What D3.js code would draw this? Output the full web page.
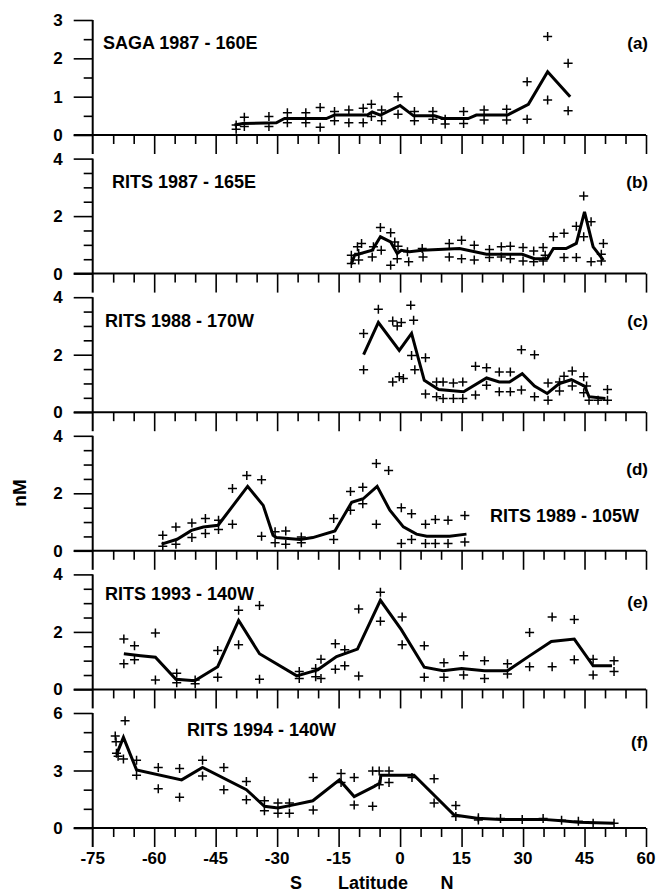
<!DOCTYPE html>
<html>
<head>
<meta charset="utf-8">
<script src="https://cdn.jsdelivr.net/npm/d3@7.9.0/dist/d3.min.js"></script>
<style>
  body { margin: 0; background: #fff; }
  svg text { font-family: "Liberation Sans", Arial, sans-serif; font-weight: bold; fill: #000; }
</style>
</head>
<body>
<svg id="chart" width="658" height="894"></svg>
<script>
// panel info
const panelTitles = ['SAGA 1987 - 160E', 'RITS 1987 - 165E', 'RITS 1988 - 170W', 'RITS 1989 - 105W', 'RITS 1993 - 140W', 'RITS 1994 - 140W'];
const panelLetters = ['(a)', '(b)', '(c)', '(d)', '(e)', '(f)'];
const yMax = [3, 4, 4, 4, 4, 6];
const yLabelStep = [1, 2, 2, 2, 2, 3];
const yTickStep = [0.5, 0.5, 0.5, 0.5, 0.5, 1];
const xTicks = [-75, -60, -45, -30, -15, 0, 15, 30, 45, 60];

// (a) SAGA 1987
const aCrossLat = [-40, -40, -38, -38, -32, -32, -27.5, -27.5, -23, -23, -19.5, -19.5, -16, -16, -12.5, -12.5, -9, -9, -7, -7, -4.5, -4.5, -0.5, -0.5, 3.5, 3.5, 8, 8, 11, 11, 15.5, 15.5, 20.5, 20.5, 26, 26, 31, 31, 36, 36, 41, 41];
const aCrossVal = [0.26, 0.15, 0.46, 0.22, 0.48, 0.22, 0.58, 0.32, 0.58, 0.32, 0.72, 0.2, 0.61, 0.37, 0.65, 0.32, 0.7, 0.32, 0.8, 0.48, 0.65, 0.37, 1.0, 0.54, 0.61, 0.37, 0.61, 0.41, 0.41, 0.29, 0.61, 0.3, 0.65, 0.39, 0.67, 0.39, 1.39, 0.41, 2.57, 0.91, 1.87, 0.63];
const aLineLat = [-40.4, -38.4, -30.2, -28.2, -18, -16, -8, -6.8, -4.8, 0, 3.3, 8.4, 10.5, 16.6, 18.6, 26.2, 31.3, 36, 41.5];
const aLineVal = [0.26, 0.3, 0.32, 0.43, 0.43, 0.52, 0.52, 0.6, 0.52, 0.77, 0.5, 0.5, 0.43, 0.43, 0.52, 0.52, 0.8, 1.65, 1.0];

// (b) RITS 1987
const bCrossLat = [-11.9, -11.9, -10.4, -10.1, -10.1, -9.4, -6.5, -6.8, -4.8, -4.6, -2.3, -2.3, -1.3, -0.5, -0.7, 1.8, 2.1, 5.4, 5.6, 12, 12, 15, 15, 18.1, 18.1, 21.8, 21.8, 24.7, 24.7, 26.9, 26.9, 30, 30, 32.6, 32.6, 34.9, 34.9, 35.4, 37.4, 40, 40, 43, 43, 44.8, 44.8, 46.6, 46.6, 49.1, 49.1, 49.6];
const bCrossVal = [0.64, 0.35, 0.93, 0.7, 0.47, 1.05, 0.93, 0.58, 1.6, 0.81, 1.42, 0.29, 1.1, 0.95, 0.52, 0.76, 0.41, 0.87, 0.58, 1.05, 0.58, 1.16, 0.52, 0.99, 0.47, 0.84, 0.56, 0.93, 0.58, 0.95, 0.52, 0.91, 0.44, 0.79, 0.41, 0.91, 0.44, 0.64, 1.28, 1.4, 0.56, 1.65, 0.56, 2.7, 1.28, 1.8, 0.41, 0.67, 0.44, 1.05];
const bLineLat = [-11.9, -11.1, -6.8, -4.8, -2.3, -0.7, 0.3, 2.3, 5.4, 14.5, 21.1, 29.8, 32.8, 35.9, 37.4, 40.5, 43, 45, 47.1, 49.6];
const bLineVal = [0.33, 0.64, 0.81, 1.28, 1.1, 0.7, 0.81, 0.76, 0.81, 0.87, 0.67, 0.67, 0.52, 0.52, 0.87, 0.87, 1.05, 2.15, 0.93, 0.47];

// (c) RITS 1988
const cCrossLat = [-8.9, -8.9, -5.3, -1.8, -1.8, -0.7, -0.2, 0.3, 0.8, 2.6, 3.3, 2.8, 3.6, 6.2, 6.2, 8.9, 8.9, 10.5, 10.5, 13, 13, 15.3, 15.3, 18.4, 18.4, 21.1, 21.1, 24.2, 24.2, 26.9, 26.9, 29.6, 29.6, 32.8, 32.8, 36.1, 36.1, 38.9, 38.9, 40, 42, 42, 44.8, 44.8, 45.5, 46.1, 48.3, 50.6, 50.6];
const cCrossVal = [2.74, 1.48, 3.58, 3.17, 1.05, 3.0, 1.23, 3.12, 1.17, 3.72, 3.2, 1.97, 1.48, 1.89, 0.63, 1.05, 0.54, 1.05, 0.48, 1.02, 0.48, 1.05, 0.48, 1.6, 0.6, 1.55, 0.94, 1.4, 0.71, 1.4, 0.71, 2.17, 0.77, 2.0, 0.54, 1.02, 0.42, 1.05, 0.74, 1.25, 1.43, 0.91, 1.23, 0.68, 0.91, 0.42, 0.42, 0.42, 0.79];
const cLineLat = [-8.9, -5.3, -0.2, 2.8, 5.9, 9.4, 15.5, 21.1, 24.2, 26.7, 29.8, 32.8, 35.9, 38.9, 41.8, 45, 46.1, 50.1];
const cLineVal = [2.0, 3.12, 2.15, 2.74, 1.11, 0.79, 0.71, 1.19, 1.05, 1.05, 1.34, 0.91, 0.65, 1.0, 1.13, 0.91, 0.54, 0.48];

// (d) RITS 1989
const dCrossLat = [-57.9, -57.9, -54.7, -54.7, -50.8, -50.8, -47.5, -47.5, -44.3, -44.3, -40.9, -40.9, -37.4, -33.8, -33.8, -30.5, -30.5, -27.9, -27.9, -24.1, -24.1, -16.2, -16.2, -12.1, -12.1, -9.1, -9.1, -5.8, -5.8, -2.8, 0.3, 0.3, 2.8, 2.8, 6.2, 6.2, 8.6, 8.6, 11.7, 11.7, 15.8, 15.8];
const dCrossVal = [0.54, 0.16, 0.83, 0.23, 0.97, 0.46, 1.12, 0.6, 1.06, 0.74, 2.17, 0.92, 2.62, 2.47, 0.51, 0.66, 0.28, 0.69, 0.23, 0.48, 0.28, 1.12, 0.39, 2.06, 1.41, 2.21, 1.64, 3.04, 0.92, 2.79, 1.5, 0.25, 1.29, 0.39, 0.92, 0.25, 1.09, 0.25, 1.06, 0.25, 1.23, 0.31];
const dLineLat = [-58.2, -54.4, -50.9, -48, -44.4, -37.2, -33.4, -31, -30.2, -24.4, -21.3, -15.9, -11.8, -9, -5.6, -2.5, 0.8, 4, 6.5, 12.1, 16.2];
const dLineVal = [0.23, 0.4, 0.71, 0.83, 0.89, 2.24, 1.58, 0.54, 0.46, 0.39, 0.46, 0.69, 1.69, 1.81, 2.24, 1.41, 0.83, 0.58, 0.51, 0.51, 0.58];

// (e) RITS 1993
const eCrossLat = [-67.4, -67.4, -64.8, -64.8, -59.7, -59.7, -54.5, -54.5, -50, -50, -44.5, -44.5, -39.4, -39.4, -34.3, -34.3, -24.6, -24.6, -20.6, -20.6, -19.3, -19.3, -15.8, -15.8, -13.5, -13.5, -10.1, -10.1, -4.8, -4.8, 0.5, 0.5, 5.9, 5.9, 10.7, 10.7, 15.5, 15.5, 20.6, 20.6, 26.2, 26.2, 31.6, 31.6, 37.1, 37.1, 42.5, 42.5, 47.1, 47.1, 52.2, 52.2];
const eCrossVal = [1.75, 0.89, 1.52, 1.03, 1.96, 0.33, 0.56, 0.23, 0.33, 0.2, 1.35, 0.42, 2.75, 1.55, 2.92, 0.35, 0.62, 0.38, 0.73, 0.44, 1.05, 0.38, 1.59, 0.7, 1.38, 0.82, 2.8, 0.47, 3.38, 2.37, 2.52, 1.55, 1.52, 0.42, 0.93, 0.42, 1.17, 0.5, 1.0, 0.38, 0.89, 0.54, 1.98, 0.79, 2.52, 0.79, 2.43, 1.03, 1.05, 0.5, 1.0, 0.62];
const eLineLat = [-67.4, -63.3, -59.7, -54.7, -50.1, -44.5, -39.4, -34.3, -25.2, -20.1, -15.5, -10.4, -4.8, 0.3, 5.9, 10.5, 15, 20.6, 26.2, 31.3, 36.9, 42.5, 47.1, 51.7];
const eLineVal = [1.24, 1.17, 1.12, 0.35, 0.3, 0.79, 2.4, 1.24, 0.47, 0.68, 1.14, 1.4, 3.1, 2.08, 0.77, 0.65, 0.73, 0.65, 0.65, 1.14, 1.67, 1.75, 0.82, 0.82];

// (f) RITS 1994
const fCrossLat = [-69.5, -69.3, -69.2, -68.8, -67.1, -67.5, -64.3, -64.3, -59, -59, -53.8, -53.8, -48.2, -48.2, -43, -43, -37.5, -37.5, -33.1, -33.1, -29.8, -29.8, -27, -27, -21.2, -21.2, -14.4, -14.4, -11.2, -11.2, -6.7, -6.7, -5.1, -5.1, -2.7, -2.7, 2.9, 8.3, 8.3, 13.6, 13.6, 19.1, 19.1, 24.5, 29.8, 34.9, 39.4, 43.5, 47.1, 52.2];
const fCrossVal = [4.8, 4.5, 3.9, 3.75, 5.6, 3.6, 3.53, 2.75, 3.16, 2.05, 3.1, 1.6, 3.53, 2.71, 3.16, 2.0, 2.43, 1.48, 1.42, 0.9, 1.3, 0.77, 1.3, 0.77, 2.64, 0.94, 2.85, 2.38, 2.64, 1.2, 2.97, 1.13, 2.97, 2.26, 2.97, 2.38, 2.64, 2.57, 1.3, 1.18, 0.6, 0.53, 0.42, 0.5, 0.45, 0.5, 0.4, 0.35, 0.25, 0.25];
const fLineLat = [-69.2, -67.5, -64.3, -53.3, -48.2, -37.5, -33.1, -29.8, -26.6, -21.3, -14.8, -11.2, -6.3, -4.9, -4.7, 3.4, 13.2, 18.8, 24.5, 34.9, 39.4, 43.5, 52.2];
const fLineVal = [3.83, 4.73, 3.03, 2.51, 3.16, 2.0, 1.13, 1.04, 1.18, 1.42, 2.51, 1.64, 2.17, 2.35, 2.75, 2.75, 0.68, 0.51, 0.45, 0.45, 0.38, 0.3, 0.25];

const crossLats = [aCrossLat, bCrossLat, cCrossLat, dCrossLat, eCrossLat, fCrossLat];
const crossVals = [aCrossVal, bCrossVal, cCrossVal, dCrossVal, eCrossVal, fCrossVal];
const lineLats = [aLineLat, bLineLat, cLineLat, dLineLat, eLineLat, fLineLat];
const lineVals = [aLineVal, bLineVal, cLineVal, dLineVal, eLineVal, fLineVal];

// layout
const titleX = [103, 112, 105, 490, 105, 187];
const titleDy = [29, 29, 30, 86, 26, 23];
const letterDy = [29, 29, 30, 39, 34, 35];
const panelTop0 = 20, panelPitch = 138.6, panelH = 115;
const bigTick = 19, smallTick = 9;

const svg = d3.select('#chart');
const x = d3.scaleLinear().domain([-75, 60]).range([92.7, 646]);

panelTitles.forEach((title, i) => {
  const top = panelTop0 + i * panelPitch;
  const y = d3.scaleLinear().domain([0, yMax[i]]).range([top + panelH, top]);
  const g = svg.append('g');
  const zeroY = y(0);

  // x axis (ticks hang below the zero line)
  const xAxis = d3.axisBottom(x)
    .tickValues(d3.range(-70, 61, 5))
    .tickSize(0)
    .tickFormat('');
  const xa = g.append('g').attr('transform', `translate(0,${zeroY})`).call(xAxis);
  xa.select('.domain').remove();
  xa.selectAll('.tick line')
    .attr('y2', d => (d % 15 === 0 ? bigTick : smallTick))
    .attr('stroke', '#000').attr('stroke-width', 1.6);
  g.append('line')
    .attr('x1', x(-75) - bigTick).attr('x2', x(60))
    .attr('y1', zeroY).attr('y2', zeroY)
    .attr('stroke', '#000').attr('stroke-width', 2);

  // y axis
  const yAxis = d3.axisLeft(y)
    .tickValues(d3.range(0, yMax[i] + 0.001, yTickStep[i]))
    .tickSize(0)
    .tickFormat('');
  const ya = g.append('g').attr('transform', `translate(${x(-75)},0)`).call(yAxis);
  ya.select('.domain').remove();
  ya.selectAll('.tick line')
    .attr('x2', d => (Math.abs(d / yLabelStep[i] - Math.round(d / yLabelStep[i])) < 1e-6 ? -bigTick : -smallTick))
    .attr('stroke', '#000').attr('stroke-width', 1.6);
  g.append('line')
    .attr('x1', x(-75)).attr('x2', x(-75))
    .attr('y1', top).attr('y2', zeroY + bigTick)
    .attr('stroke', '#000').attr('stroke-width', 2);
  g.selectAll('.ylab')
    .data(d3.range(0, yMax[i] + 0.001, yLabelStep[i]))
    .join('text')
    .attr('x', x(-75) - 30)
    .attr('y', d => y(d) + 6)
    .attr('text-anchor', 'end')
    .attr('font-size', 17)
    .text(d => d);

  // crosses
  const pts = crossLats[i].map((lat, k) => [lat, crossVals[i][k]]);
  g.selectAll('.cross')
    .data(pts)
    .join('path')
    .attr('d', d => `M${x(d[0]) - 4.5},${y(d[1])}h9M${x(d[0])},${y(d[1]) - 4.5}v9`)
    .attr('stroke', '#000').attr('stroke-width', 1.5).attr('fill', 'none');

  // running mean line
  const line = d3.line().x(d => x(d[0])).y(d => y(d[1]));
  const lpts = lineLats[i].map((lat, k) => [lat, lineVals[i][k]]);
  g.append('path')
    .attr('d', line(lpts))
    .attr('fill', 'none').attr('stroke', '#000')
    .attr('stroke-width', 3).attr('stroke-linejoin', 'miter');

  // title and letter
  g.append('text').attr('x', titleX[i]).attr('y', top + titleDy[i])
    .attr('font-size', 18).text(title);
  g.append('text').attr('x', 648).attr('y', top + letterDy[i])
    .attr('text-anchor', 'end').attr('font-size', 17).text(panelLetters[i]);
});

// bottom tick labels
const lastZero = panelTop0 + 5 * panelPitch + panelH;
svg.selectAll('.xlab')
  .data(xTicks)
  .join('text')
  .attr('x', d => x(d))
  .attr('y', lastZero + 36)
  .attr('text-anchor', 'middle')
  .attr('font-size', 17)
  .text(d => d);

svg.append('text').attr('x', 296).attr('y', 889).attr('text-anchor', 'middle').attr('font-size', 18).text('S');
svg.append('text').attr('x', 373).attr('y', 889).attr('text-anchor', 'middle').attr('font-size', 18).text('Latitude');
svg.append('text').attr('x', 447).attr('y', 889).attr('text-anchor', 'middle').attr('font-size', 18).text('N');

svg.append('text')
  .attr('transform', 'translate(26,493) rotate(-90)')
  .attr('text-anchor', 'middle')
  .attr('font-size', 19)
  .text('nM');
</script>
</body>
</html>
